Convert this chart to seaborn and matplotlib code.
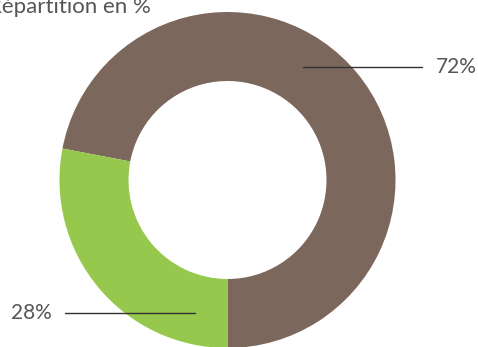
import matplotlib
matplotlib.use("Agg")
import matplotlib.pyplot as plt
import seaborn as sns

# Share split shown in the donut
categories = ["Marron", "Vert"]
values = [72, 28]
labels = ["72%", "28%"]
title = "Répartition en %"

sns.set_theme(style="white")
plt.rcParams["font.family"] = ["Lato", "DejaVu Sans"]

colors = ["#7b675c", "#95c84c"]
text_color = "#555555"

W, H = 478, 347
fig = plt.figure(figsize=(W / 100, H / 100), dpi=100)
ax = fig.add_axes([0, 0, 1, 1])

# Donut geometry in pixels: centre (227.5, 180), outer radius 168, hole radius 99
cx, cy, r = 227.5, 180.0, 168.0

ax.pie(values, colors=colors, startangle=-90, counterclock=True,
       radius=1.0, wedgeprops=dict(width=1.0 - 99 / 168, linewidth=0))

ax.set_aspect("auto")
ax.set_xlim((0 - cx) / r, (W - cx) / r)
ax.set_ylim((cy - H) / r, (cy - 0) / r)
ax.axis("off")

def px(x):
    return (x - cx) / r

def py(y):
    return (cy - y) / r

# Leader line and label for the large share
ax.plot([px(303), px(422)], [py(67), py(67)], color="#333333", lw=1)
ax.text(px(436), py(67), labels[0], ha="left", va="center",
        fontsize=15, color=text_color)

# Leader line and label for the small share
ax.plot([px(65), px(195)], [py(313), py(313)], color="#333333", lw=1)
ax.text(px(52), py(313), labels[1], ha="right", va="center",
        fontsize=15, color=text_color)

fig.text(-12 / W, 1 - 13 / H, title, ha="left", va="baseline",
         fontsize=16, color=text_color)

fig.savefig("out.png", dpi=100)
